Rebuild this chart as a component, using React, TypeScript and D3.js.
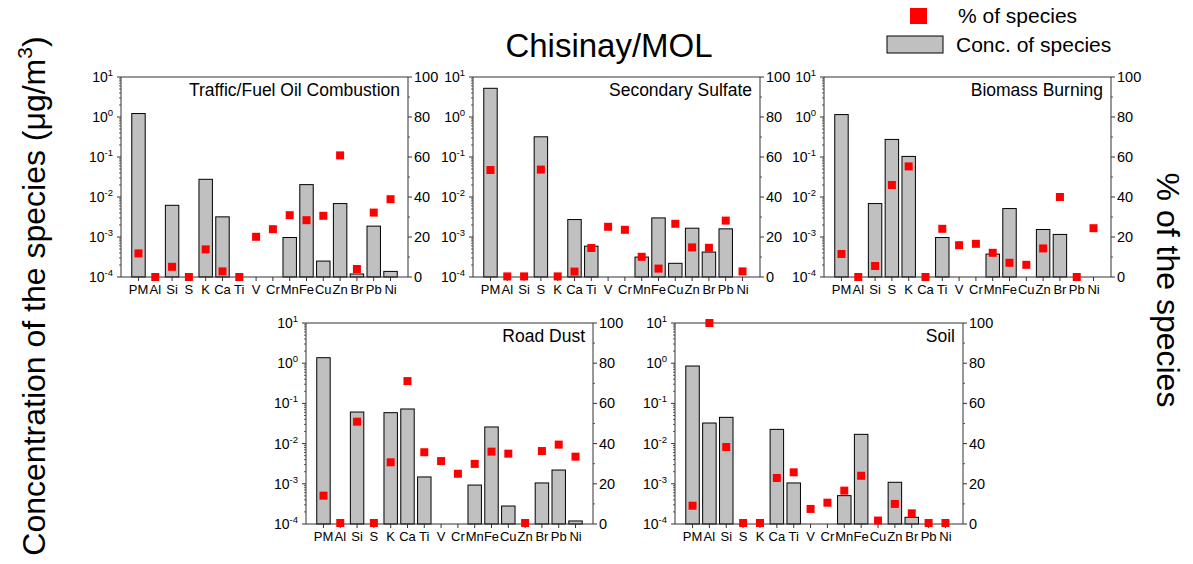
import React from "react";
import * as d3 from "d3";

const categories = ["PM","Al","Si","S","K","Ca","Ti","V","Cr","Mn","Fe","Cu","Zn","Br","Pb","Ni"];

const trafficConc = [1.22, null, 0.0062, null, 0.0277, 0.00319, null, 1e-4, 1e-4, 0.00097, 0.0204, 0.00025, 0.00685, 0.000119, 0.00187, 0.000138];
const trafficPct = [11.8, 0, 5.1, 0, 13.8, 2.8, 0, 20.1, 23.9, 30.9, 28.4, 30.6, 60.8, 4.0, 32.2, 38.9];

const sulfateConc = [5.22, null, null, 0.32, null, 0.00273, 0.00059, 1e-4, 1e-4, 0.000315, 0.0030, 0.00022, 0.00166, 0.00042, 0.0016, 1e-4];
const sulfatePct = [53.5, 0.3, 0.3, 53.7, 0.3, 2.7, 14.5, 25.1, 23.6, 10.1, 4.2, 26.6, 14.8, 14.6, 28.2, 2.8];

const biomassConc = [1.15, null, 0.00685, 0.275, 0.1035, null, 0.00097, null, null, 0.000374, 0.00514, null, 0.00154, 0.00116, null, null];
const biomassPct = [11.5, 0, 5.5, 46.0, 55.3, 0, 24.1, 15.9, 16.6, 12.1, 7.1, 6.1, 14.3, 40.0, 0, 24.4];

const roadConc = [1.37, null, 0.061, null, 0.0588, 0.0726, 0.00148, null, null, 0.00093, 0.0259, 0.00028, null, 0.00105, 0.0022, 0.000119];
const roadPct = [14.1, 0.5, 50.9, 0.5, 30.7, 71.1, 35.7, 31.3, 25.0, 29.9, 36.0, 35.0, 0.5, 36.3, 39.5, 33.5];

const soilConc = [0.851, 0.0325, 0.045, null, null, 0.0226, 0.00105, null, null, 0.000507, 0.017, null, 0.00109, 0.000147, null, null];
const soilPct = [9.1, 100, 38.3, 0.5, 0.5, 22.9, 25.7, 7.5, 10.6, 16.6, 24.0, 1.7, 10.0, 5.3, 0.5, 0.5];

const panelNames = ["Traffic/Fuel Oil Combustion", "Secondary Sulfate", "Biomass Burning", "Road Dust", "Soil"];
const panelConc = [trafficConc, sulfateConc, biomassConc, roadConc, soilConc];
const panelPct = [trafficPct, sulfatePct, biomassPct, roadPct, soilPct];

const logTicks = [1e-4, 1e-3, 1e-2, 1e-1, 1, 10];
const logTickExp = ["-4", "-3", "-2", "-1", "0", "1"];
const pctTicks = [0, 20, 40, 60, 80, 100];

const title = "Chisinay/MOL";
const legendPct = "% of species";
const legendConc = "Conc. of species";

// layout (positions only)
const layout = [
  { x0: 121, x1: 408, y0: 77, y1: 277 },
  { x0: 473, x1: 760, y0: 77, y1: 277 },
  { x0: 824, x1: 1111, y0: 77, y1: 277 },
  { x0: 306, x1: 593, y0: 323, y1: 524 },
  { x0: 675, x1: 963, y0: 323, y1: 524 },
];

const FONT = "'Liberation Sans', Arial, sans-serif";
const AXIS = "#333";

function Panel({ idx }: { idx: number }) {
  const L = layout[idx];
  const conc = panelConc[idx];
  const pct = panelPct[idx];
  const x = d3.scalePoint<string>().domain(categories).range([L.x0, L.x1]).padding(1.04);
  const y = d3.scaleLog().domain([1e-4, 10]).range([L.y1, L.y0]);
  const yr = d3.scaleLinear().domain([0, 100]).range([L.y1, L.y0]);
  const barW = x.step() * 0.8;
  const minor: number[] = [];
  for (let e = -4; e < 1; e++) for (let m = 2; m <= 9; m++) minor.push(m * Math.pow(10, e));
  const minorPct = [10, 30, 50, 70, 90];
  const sq = 8;
  return (
    <g>
      {conc.map((v, i) =>
        v == null ? null : (
          <rect key={"b" + i} x={x(categories[i])! - barW / 2} y={y(v)} width={barW} height={y(1e-4) - y(v)}
            fill="#C0C0C0" stroke="#000" strokeWidth={1} />
        )
      )}
      {/* frame */}
      <line x1={L.x0} x2={L.x1} y1={L.y0} y2={L.y0} stroke={AXIS} strokeWidth={1} />
      <line x1={L.x0} x2={L.x1} y1={L.y1} y2={L.y1} stroke={AXIS} strokeWidth={1} />
      <line x1={L.x0} x2={L.x0} y1={L.y0} y2={L.y1} stroke={AXIS} strokeWidth={1} />
      <line x1={L.x1} x2={L.x1} y1={L.y0} y2={L.y1} stroke={AXIS} strokeWidth={1} />
      {/* left ticks */}
      {logTicks.map((t, i) => (
        <g key={"lt" + i}>
          <line x1={L.x0 - 4} x2={L.x0} y1={y(t)} y2={y(t)} stroke={AXIS} />
          <text x={L.x0 - 8} y={y(t) + 5} textAnchor="end" fontFamily={FONT} fontSize={14} fill="#000">
            10<tspan dy={-6} fontSize={9.5}>{logTickExp[i]}</tspan>
          </text>
        </g>
      ))}
      {minor.map((t, i) => (
        <line key={"mn" + i} x1={L.x0 - 2} x2={L.x0} y1={y(t)} y2={y(t)} stroke={AXIS} strokeWidth={0.8} />
      ))}
      {/* right ticks */}
      {pctTicks.map((t, i) => (
        <g key={"rt" + i}>
          <line x1={L.x1} x2={L.x1 + 4} y1={yr(t)} y2={yr(t)} stroke={AXIS} />
          <text x={L.x1 + 6} y={yr(t) + 5} textAnchor="start" fontFamily={FONT} fontSize={14.5} fill="#000">{t}</text>
        </g>
      ))}
      {minorPct.map((t, i) => (
        <line key={"rm" + i} x1={L.x1} x2={L.x1 + 2} y1={yr(t)} y2={yr(t)} stroke={AXIS} strokeWidth={0.8} />
      ))}
      {/* bottom ticks */}
      {categories.map((c, i) => (
        <g key={"bt" + i}>
          <line x1={x(c)} x2={x(c)} y1={L.y1} y2={L.y1 + 4} stroke={AXIS} />
          <text x={x(c)} y={L.y1 + 17} textAnchor="middle" fontFamily={FONT} fontSize={13} fill="#000">{c}</text>
        </g>
      ))}
      {/* percent squares */}
      {pct.map((p, i) => (
        <rect key={"p" + i} x={x(categories[i])! - sq / 2} y={yr(p) - sq / 2} width={sq} height={sq} fill="#FF0000" />
      ))}
      <text x={L.x1 - 8} y={L.y0 + 19} textAnchor="end" fontFamily={FONT} fontSize={17.5} fill="#000">{panelNames[idx]}</text>
    </g>
  );
}

export default function App() {
  return (
    <svg width={1193} height={564} style={{ display: "block", position: "absolute", left: 0, top: 0, background: "#fff" }}>
      <rect x={0} y={0} width={1193} height={564} fill="#fff" />
      {panelNames.map((_, i) => <Panel key={i} idx={i} />)}
      <text x={609} y={57} textAnchor="middle" fontFamily={FONT} fontSize={33} fill="#000">{title}</text>
      {/* legend */}
      <rect x={910} y={8} width={17} height={16} fill="#FF0000" />
      <text x={958} y={23} fontFamily={FONT} fontSize={21} fill="#000">{legendPct}</text>
      <rect x={887} y={36} width={56} height={17} fill="#C0C0C0" stroke="#000" strokeWidth={1} />
      <text x={956} y={52} fontFamily={FONT} fontSize={21} fill="#000">{legendConc}</text>
      {/* axis labels */}
      <text transform="translate(45,296) rotate(-90)" textAnchor="middle" fontFamily={FONT} fontSize={32} fill="#000">
        Concentration of the species (μg/m<tspan dy={-13} fontSize={21}>3</tspan><tspan dy={13}>)</tspan>
      </text>
      <text transform="translate(1157,290) rotate(90)" textAnchor="middle" fontFamily={FONT} fontSize={32} fill="#000">% of the species</text>
    </svg>
  );
}
